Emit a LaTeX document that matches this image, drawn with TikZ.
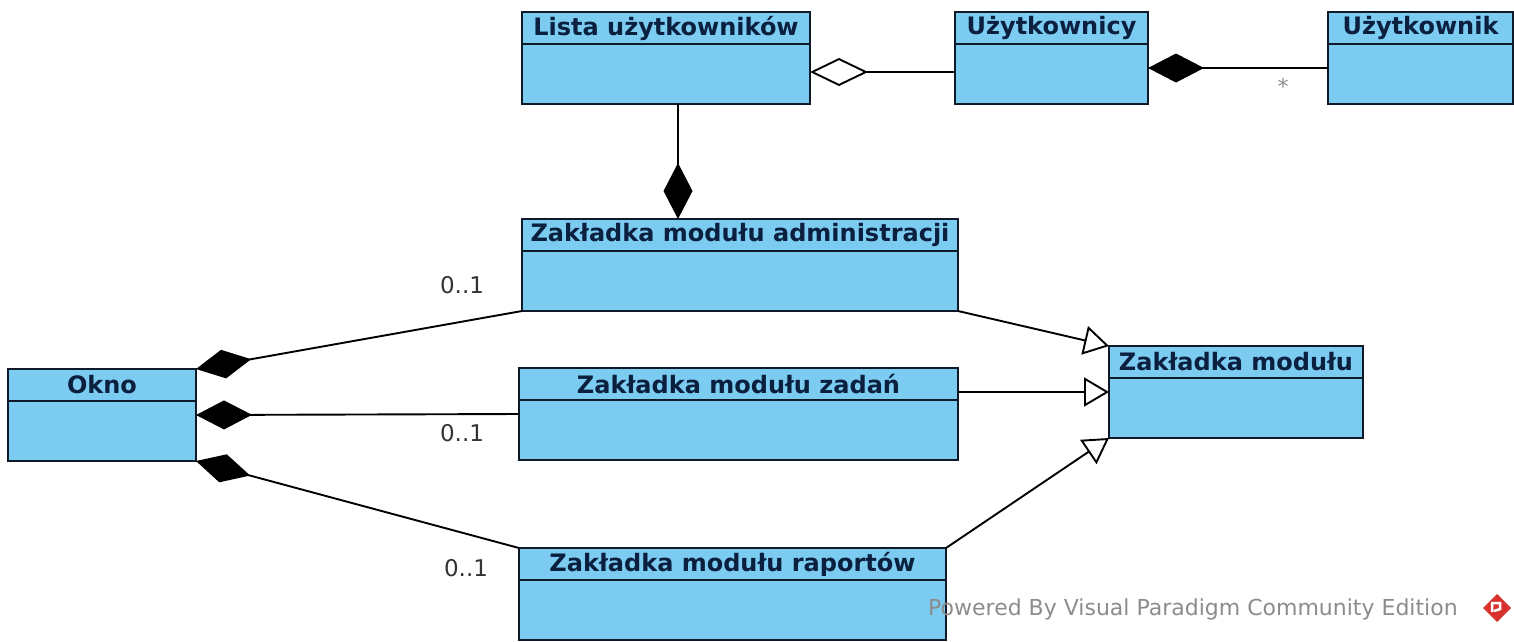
\documentclass[tikz,border=0pt]{standalone}
\usepackage{fontspec}
\setmainfont{DejaVu Sans}
\usepackage{xcolor}
\usepackage{tikz}
\usetikzlibrary{arrows.meta,calc}
\definecolor{clsFill}{HTML}{7CCCF2}
\definecolor{clsLine}{HTML}{0E1A28}
\definecolor{titleColor}{HTML}{0B1F3F}
\definecolor{markColor}{HTML}{8C8C8C}
\definecolor{logoColor}{HTML}{D8322E}

\begin{document}
\begin{tikzpicture}[x=1pt,y=-1pt,
    cls/.style={fill=clsFill,draw=clsLine,line width=2.2pt,anchor=north west,
        inner sep=0pt,outer sep=0pt,minimum height=92pt},
    title/.style={text=titleColor,font=\fontsize{24}{28}\selectfont\bfseries},
    mult/.style={text=black!80,font=\fontsize{23}{27}\selectfont},
    conn/.style={draw=black,line width=1.9pt},
    comp/.style={conn,-{Diamond[length=56pt,width=29pt]}},
    agg/.style={conn,-{Diamond[open,length=58pt,width=28pt]}},
    gen/.style={conn,-{Triangle[open,length=25pt,width=29pt]}}]
\useasboundingbox (0,0) rectangle (1514,641);
\foreach \nm/\x/\y/\w/\t in {
    lista/522/12/288/Lista użytkowników,
    uzytkownicy/955/12/193/Użytkownicy,
    uzytkownik/1328/12/185/Użytkownik,
    admin/522/219/436/Zakładka modułu administracji,
    okno/8/369/188/Okno,
    zadan/519/368/439/Zakładka modułu zadań,
    raport/519/548/427/Zakładka modułu raportów,
    modul/1109/346/254/Zakładka modułu} {
  \node[cls,minimum width=\w pt] (\nm) at (\x,\y) {};
  \draw[clsLine,line width=2.2pt] ($(\nm.north west)+(0,32)$) -- ($(\nm.north east)+(0,32)$);
  \node[title] (\nm-t) at ($(\nm.north)+(0,16)$) {\t};
}
\draw[comp] ($(lista.south west)+(156,0)$) -- ($(admin.north west)+(156,0)$);
\draw[agg] ($(uzytkownicy.north west)+(0,60)$) -- ($(lista.north east)+(0,60)$);
\draw[comp] ($(uzytkownik.north west)+(0,56)$) -- ($(uzytkownicy.north east)+(0,56)$);
\draw[comp] (admin.south west) -- (okno.north east);
\draw[comp] (zadan.west) -- (okno.east);
\draw[comp] (raport.north west) -- (okno.south east);
\draw[gen] (admin.south east) -- (modul.north west);
\draw[gen] (zadan.east |- modul.west) -- (modul.west);
\draw[gen] (raport.north east) -- (modul.south west);
\node[mult] (m-admin) at (462,285) {0..1};
\node[mult] (m-zadan) at (462,433) {0..1};
\node[mult] (m-raport) at (466,568) {0..1};
\node[text=markColor,font=\fontsize{22}{24}\selectfont] (m-uz) at (1283,86) {*};
\node[text=markColor,anchor=west,inner sep=0pt,font=\fontsize{22}{26}\selectfont] (wm)
    at (928,609) {Powered By Visual Paradigm Community Edition};
\fill[logoColor] (1483,608) -- (1497,594) -- (1511,608) -- (1497,622) -- cycle;
\draw[white,line width=2.5pt] (1492,612) -- (1492,603) -- (1500,603) -- (1500,609) -- (1494,611);
\end{tikzpicture}
\end{document}
